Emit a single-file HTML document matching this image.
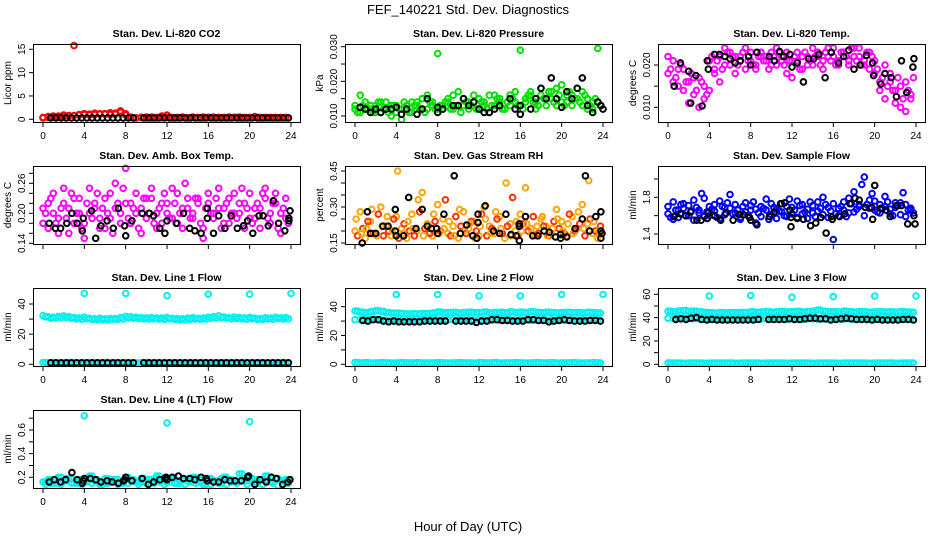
<!DOCTYPE html>
<html><head><meta charset="utf-8"><style>
html,body{margin:0;padding:0;background:#fff}
svg{display:block;font-family:"Liberation Sans",Arial,sans-serif}
</style></head><body>
<svg id="chart" width="936" height="540" viewBox="0 0 936 540">
<rect x="0" y="0" width="936" height="540" fill="#fff"/>
<text x="468" y="14" text-anchor="middle" font-size="13">FEF_140221  Std. Dev. Diagnostics</text>
<text x="468" y="531" text-anchor="middle" font-size="13">Hour of Day (UTC)</text>
</svg>
<script>
// ---- shared categories ----
const hourTicks = [0,4,8,12,16,20,24];
const hourTickLabels = ["0","4","8","12","16","20","24"];
const halfHours = Array.from({length:48},(_,i)=>i*0.5);

// ---- P1 CO2 ----
const co2A = [0.4,0.6,0.5,0.7,0.6,0.8,15.8,0.9,1.0,1.1,1.0,1.2,1.1,1.0,1.3,1.8,1.2,0.5,0.3,0.4,0.5,0.3,0.4,0.7,0.4,0.3,0.4,0.5,0.3,0.4,0.3,0.5,0.4,0.3,0.4,0.3,0.5,0.4,0.3,0.4,0.3,0.5,0.4,0.3,0.4,0.3,0.4,0.3];
const co2B = [0.3,0.4,0.7,0.5,0.9,0.7,0.8,1.0,1.2,0.9,1.3,1.1,1.2,1.4,1.1,1.5,0.9,0.4,0.3,0.4,0.3,0.5,0.3,0.4,0.9,0.4,0.3,0.4,0.3,0.5,0.4,0.3,0.4,0.5,0.3,0.4,0.3,0.4,0.5,0.3,0.4,0.6,0.3,0.4,0.3,0.4,0.3,0.4];
const co2Black = [null,0.3,0.3,0.3,0.3,0.3,0.3,0.3,0.3,0.3,0.3,0.3,0.3,0.3,0.3,0.3,0.3,0.3,null,0.3,0.3,0.3,0.3,0.3,0.3,0.3,0.3,0.3,0.3,0.3,0.3,0.3,0.3,0.3,0.3,0.3,0.3,0.3,0.3,0.3,0.3,0.3,0.3,0.3,0.3,0.3,0.3,0.3];

// ---- P2 Pressure ----
const presA = [0.013,0.016,0.012,0.013,0.011,0.014,0.012,0.010,0.013,0.009,0.012,0.014,0.013,0.012,0.016,0.013,0.028,0.012,0.014,0.016,0.013,0.015,0.012,0.014,0.015,0.013,0.011,0.016,0.014,0.012,0.013,0.017,0.029,0.014,0.016,0.012,0.018,0.015,0.017,0.013,0.019,0.014,0.016,0.018,0.013,0.015,0.012,0.014];
const presB = [0.012,0.011,0.014,0.012,0.013,0.011,0.014,0.013,0.011,0.012,0.013,0.011,0.014,0.015,0.012,0.014,0.012,0.013,0.015,0.012,0.017,0.013,0.014,0.016,0.012,0.014,0.016,0.013,0.015,0.012,0.016,0.014,0.013,0.015,0.017,0.014,0.016,0.013,0.015,0.018,0.014,0.016,0.013,0.015,0.017,0.012,0.014,0.0295];
const presC = [0.011,0.013,0.012,0.011,0.014,0.012,0.011,0.013,0.012,0.014,0.011,0.013,0.012,0.011,0.014,0.012,0.013,0.014,0.012,0.013,0.011,0.014,0.013,0.012,0.014,0.012,0.013,0.015,0.012,0.014,0.015,0.013,0.012,0.016,0.014,0.013,0.015,0.017,0.014,0.016,0.013,0.017,0.015,0.014,0.016,0.013,0.015,0.013];
const presBlackT = [0.5,1,1.5,2,2.5,3,3.5,4,4.5,5,6,6.5,7,8,8,8.5,9.5,10,10.5,11,11.5,12,12.5,13,13.5,14,15,15.5,16,16,17,17.5,18,18.5,19,19.5,20,20.5,21,21.5,22,22.5,23,23.5,23.8,24];
const presBlackV = [0.0125,0.012,0.011,0.012,0.011,0.012,0.012,0.0125,0.0105,0.012,0.0105,0.012,0.015,0.0125,0.011,0.012,0.013,0.013,0.015,0.013,0.014,0.012,0.011,0.011,0.012,0.013,0.015,0.012,0.0105,0.013,0.012,0.015,0.018,0.015,0.021,0.015,0.0125,0.017,0.015,0.018,0.021,0.013,0.011,0.014,0.013,0.012];

// ---- P3 Li-820 Temp ----
const ltA = [0.018,0.021,0.015,0.019,0.016,0.013,0.017,0.012,0.014,0.018,0.016,0.020,0.023,0.022,0.021,0.019,0.023,0.020,0.022,0.021,0.023,0.020,0.022,0.018,0.021,0.023,0.019,0.022,0.020,0.023,0.021,0.024,0.022,0.020,0.023,0.021,0.024,0.022,0.020,0.023,0.018,0.014,0.020,0.016,0.011,0.015,0.009,0.013];
const ltB = [0.022,0.016,0.019,0.014,0.011,0.017,0.010,0.015,0.021,0.019,0.022,0.024,0.020,0.018,0.022,0.024,0.021,0.019,0.023,0.022,0.020,0.024,0.021,0.023,0.017,0.021,0.022,0.020,0.024,0.022,0.019,0.022,0.024,0.021,0.023,0.020,0.022,0.024,0.021,0.019,0.021,0.016,0.012,0.018,0.014,0.010,0.016,0.012];
const ltC = [0.019,0.017,0.020,0.016,0.018,0.014,0.016,0.013,0.022,0.021,0.019,0.023,0.022,0.020,0.023,0.021,0.020,0.022,0.021,0.019,0.022,0.023,0.020,0.021,0.022,0.019,0.023,0.021,0.022,0.020,0.023,0.021,0.020,0.023,0.022,0.024,0.021,0.020,0.023,0.022,0.019,0.017,0.015,0.014,0.017,0.012,0.014,0.017];
const ltBlackT = [0.6,1.2,2,2.2,2.7,3.3,3.8,3.9,4.5,5,5.5,6,6.5,7,7.8,8,8.6,9.8,10.3,10.8,11.2,11.8,12,12.5,13.1,13.6,14.1,14.6,15.2,15.8,16.5,17,17.5,18,18.6,19.2,19.8,19.9,20.6,21,21.6,22.1,22.6,23.1,23.7,23.8];
const ltBlackV = [0.015,0.0205,0.0185,0.011,0.0175,0.0103,0.021,0.019,0.0225,0.0225,0.022,0.0215,0.0205,0.021,0.022,0.020,0.023,0.022,0.021,0.0232,0.022,0.0225,0.0195,0.0205,0.016,0.0215,0.0215,0.0225,0.017,0.023,0.0205,0.022,0.0235,0.019,0.020,0.0223,0.0205,0.0175,0.0155,0.018,0.017,0.0125,0.021,0.0135,0.0195,0.0215];

// ---- P4 Amb Box Temp ----
const abA = [0.21,0.17,0.24,0.19,0.22,0.16,0.23,0.20,0.18,0.25,0.21,0.17,0.23,0.19,0.26,0.20,0.22,0.18,0.24,0.21,0.19,0.23,0.17,0.22,0.20,0.25,0.18,0.21,0.23,0.19,0.22,0.17,0.24,0.20,0.21,0.18,0.23,0.20,0.22,0.17,0.24,0.19,0.21,0.23,0.18,0.22,0.20,0.23];
const abB = [0.18,0.22,0.20,0.16,0.25,0.21,0.18,0.23,0.15,0.20,0.22,0.19,0.17,0.24,0.21,0.18,0.29,0.22,0.20,0.16,0.23,0.25,0.20,0.18,0.22,0.19,0.24,0.17,0.21,0.20,0.23,0.15,0.22,0.19,0.25,0.21,0.18,0.24,0.20,0.22,0.19,0.21,0.17,0.25,0.20,0.24,0.16,0.19];
const abC = [0.20,0.23,0.18,0.21,0.19,0.24,0.20,0.17,0.22,0.19,0.24,0.21,0.20,0.16,0.22,0.25,0.19,0.21,0.17,0.23,0.20,0.18,0.21,0.24,0.19,0.22,0.20,0.26,0.19,0.23,0.18,0.21,0.20,0.23,0.17,0.22,0.20,0.19,0.25,0.21,0.18,0.22,0.24,0.19,0.22,0.17,0.21,0.18];
const abBlackT = [0.6,1.2,1.7,2.3,2.8,3.3,3.8,3.9,4.7,5.1,5.6,6.2,6.8,7.3,7.9,8,8.6,9.6,10.3,10.7,11.3,11.8,12,12.9,13.6,14.2,14.7,15.3,15.9,15.9,16.5,17,17.6,18.2,18.8,19.4,19.8,20.3,20.9,21.3,21.8,22.3,22.8,23.4,23.8,23.8,23.9];
const abBlackV = [0.18,0.17,0.17,0.18,0.20,0.18,0.165,0.19,0.205,0.15,0.175,0.185,0.17,0.21,0.175,0.155,0.185,0.20,0.20,0.195,0.17,0.16,0.185,0.18,0.20,0.17,0.165,0.16,0.21,0.19,0.16,0.195,0.17,0.195,0.17,0.175,0.185,0.16,0.195,0.195,0.175,0.225,0.18,0.165,0.185,0.19,0.205];

// ---- P5 Gas Stream RH ----
const rhA = [0.20,0.28,0.17,0.24,0.19,0.30,0.22,0.18,0.26,0.21,0.17,0.27,0.20,0.36,0.23,0.18,0.31,0.25,0.19,0.22,0.17,0.28,0.21,0.24,0.18,0.30,0.22,0.19,0.26,0.17,0.23,0.20,0.27,0.38,0.21,0.18,0.25,0.22,0.19,0.29,0.24,0.18,0.26,0.21,0.31,0.23,0.19,0.17];
const rhB = [0.18,0.21,0.24,0.19,0.27,0.18,0.20,0.25,0.17,0.23,0.20,0.18,0.28,0.21,0.19,0.24,0.20,0.33,0.18,0.26,0.22,0.19,0.24,0.20,0.27,0.18,0.21,0.25,0.19,0.22,0.34,0.18,0.23,0.20,0.26,0.19,0.22,0.18,0.24,0.21,0.19,0.27,0.20,0.23,0.18,0.25,0.20,0.22];
const rhC = [0.25,0.19,0.21,0.29,0.18,0.22,0.26,0.20,0.45,0.19,0.24,0.21,0.33,0.18,0.22,0.27,0.19,0.21,0.24,0.18,0.29,0.20,0.23,0.17,0.22,0.25,0.19,0.28,0.21,0.40,0.18,0.24,0.20,0.23,0.19,0.22,0.26,0.18,0.21,0.25,0.20,0.23,0.19,0.28,0.21,0.41,0.24,0.20];
const rhBlackT = [0.7,1.2,1.5,2,2.7,3.2,3.9,3.9,4,4.7,5.2,5.9,6.5,7,7.4,7.9,8,8.6,9.6,10.2,10.8,11.4,11.8,11.9,11.9,12.6,13.4,14,14.6,15.1,15.6,15.9,15.9,15.9,16.5,17.2,17.7,18.3,18.8,19.4,19.9,19.9,20.5,21.3,22,22.3,22.7,23.3,23.8,23.8,23.8,23.9];
const rhBlackV = [0.15,0.28,0.19,0.19,0.22,0.22,0.29,0.20,0.18,0.18,0.34,0.21,0.29,0.22,0.21,0.21,0.19,0.27,0.43,0.19,0.225,0.18,0.17,0.27,0.235,0.305,0.20,0.19,0.27,0.185,0.18,0.23,0.22,0.16,0.26,0.18,0.18,0.20,0.195,0.175,0.17,0.185,0.175,0.21,0.25,0.43,0.20,0.26,0.28,0.20,0.17,0.19];

// ---- P6 Sample Flow ----
const sfA = [1.62,1.75,1.58,1.68,1.71,1.55,1.66,1.79,1.60,1.72,1.57,1.69,1.83,1.63,1.58,1.74,1.66,1.52,1.70,1.78,1.61,1.67,1.73,1.59,1.69,1.76,1.62,1.57,1.71,1.65,1.80,1.58,1.34,1.68,1.75,1.63,1.86,1.70,1.60,1.77,1.66,1.72,1.81,1.62,1.69,1.74,1.59,1.68];
const sfB = [1.70,1.56,1.66,1.73,1.60,1.77,1.63,1.59,1.70,1.65,1.76,1.61,1.68,1.72,1.56,1.64,1.71,1.67,1.59,1.66,1.73,1.57,1.64,1.70,1.62,1.58,1.72,1.67,1.63,1.75,1.61,1.69,1.73,1.60,1.66,1.79,1.64,1.72,2.02,1.68,1.76,1.63,1.70,1.67,1.74,1.61,1.72,1.66];
const sfC = [1.58,1.66,1.72,1.60,1.65,1.69,1.84,1.64,1.67,1.58,1.70,1.74,1.62,1.66,1.70,1.60,1.75,1.63,1.68,1.56,1.69,1.65,1.60,1.78,1.66,1.71,1.64,1.75,1.59,1.68,1.72,1.65,1.62,1.70,1.59,1.73,1.67,1.94,1.72,1.84,1.64,1.68,1.75,1.60,1.71,1.85,1.66,1.63];
const sfBlackT = [0.6,1.2,1.7,2.2,2.8,3.2,3.8,3.9,4.5,5.1,5.6,6.3,6.9,7.3,7.9,8,8.6,9.8,10.3,10.9,11.3,11.8,11.9,11.9,12.5,13.1,13.8,14.3,14.8,15.3,15.8,15.9,16.6,17.1,17.6,18.1,18.5,19.1,19.7,19.8,20,20.6,21.1,21.5,22.1,22.6,23.2,23.8,23.9];
const sfBlackV = [1.59,1.62,1.60,1.64,1.55,1.55,1.57,1.63,1.60,1.55,1.63,1.55,1.61,1.61,1.58,1.55,1.50,1.59,1.64,1.73,1.74,1.66,1.58,1.48,1.57,1.56,1.49,1.52,1.58,1.41,1.59,1.56,1.59,1.62,1.73,1.79,1.77,1.69,1.69,1.56,1.93,1.68,1.66,1.59,1.71,1.71,1.51,1.60,1.51];

// ---- P7-P9 Line flows ----
const outT = [4,8,12,16,20,24];
const l1Hi = [32.3,31.5,31.2,31.8,32.1,31.6,31.0,30.8,31.4,30.5,30.2,30.6,30.1,30.4,30.3,30.9,31.8,31.5,31.2,30.9,30.8,31.0,30.6,30.7,31.1,30.5,30.4,30.2,30.6,30.9,30.5,30.8,31.2,31.6,32.2,31.4,30.9,31.3,31.0,30.8,31.1,30.6,30.4,30.9,30.7,31.2,30.8,31.0];
const l1Mid = [31.4,30.6,30.8,30.9,31.0,30.5,30.1,29.9,30.2,29.8,29.6,29.8,29.5,29.9,29.7,30.1,30.8,30.6,30.3,30.1,30.0,30.2,29.9,29.8,30.2,29.8,29.6,29.5,29.9,30.0,29.7,30.0,30.4,30.8,31.0,30.6,30.1,30.4,30.2,29.9,30.3,29.8,29.7,30.1,29.9,30.3,30.0,30.2];
const l1Lo = [1.2,1.0,1.1,0.9,1.0,1.1,1.0,0.9,1.0,1.1,1.0,1.0,1.1,0.9,1.0,1.0,1.1,1.0,0.9,1.0,1.1,1.0,1.0,0.9,1.1,1.0,1.0,1.1,0.9,1.0,1.0,1.1,1.0,0.9,1.0,1.1,1.0,1.0,1.1,0.9,1.0,1.0,1.1,1.0,0.9,1.0,1.1,1.0];
const l1Out = [47,47,45.5,46.5,46.5,47];
const l1Black = [null,1,1,1,1,1,1,1,1,1,1,1,1,1,1,1,1,1,null,1,1,1,1,1,1,1,1,1,1,1,1,1,1,1,1,1,1,1,1,1,1,1,1,1,1,1,1,1];

const l2Hi = [37.0,36.2,35.8,36.5,37.2,36.8,36.0,35.6,35.5,35.2,34.9,35.1,35.0,35.3,35.2,35.6,36.4,35.8,35.9,36.1,35.7,35.9,36.2,35.8,36.0,36.3,35.7,35.9,36.1,35.8,36.4,36.0,36.2,35.9,36.5,36.1,35.8,36.2,36.0,35.7,35.9,36.1,35.8,36.0,35.7,36.1,35.9,35.6];
const l2Mid = [31.0,30.8,31.2,31.0,31.3,30.9,30.6,30.5,30.7,30.4,30.3,30.5,30.4,30.6,30.5,30.8,31.0,30.7,30.8,30.9,30.6,30.8,30.9,30.6,30.8,31.0,30.7,30.9,30.8,30.6,30.9,30.7,31.0,30.8,30.6,30.9,30.7,30.8,31.0,30.7,30.9,30.6,30.8,30.7,30.9,30.6,30.8,30.7];
const l2Lo = l1Lo;
const l2Out = [48.5,48.5,47.5,47.5,48.5,48.5];
const l2Black = [null,30.5,30,31,31,30,29.5,30,29.5,29.5,29.5,29.5,29.5,30,30,30,30,30,null,30,30,30,30,29,30,30,31,31,30.5,30.5,30,30,30,31,31,30.5,30.5,29.5,30,30.5,31,30.5,30,30,30,30.5,30.5,30];

const l3Hi = [45.5,45.0,45.8,46.0,45.4,45.6,45.0,44.5,44.2,44.0,44.3,44.1,44.4,44.2,44.5,44.3,45.0,44.6,44.8,45.1,44.7,45.0,45.3,44.9,45.1,45.4,44.8,45.2,45.6,46.5,45.3,45.0,45.2,44.9,45.5,45.1,44.8,45.2,45.0,44.7,44.9,45.1,44.8,45.0,44.7,45.1,44.9,44.6];
const l3Mid = [39.5,39.2,39.6,39.8,39.4,39.1,38.8,38.7,38.6,38.5,38.4,38.5,38.4,38.6,38.5,38.8,39.0,38.7,38.8,38.9,38.6,38.8,38.9,38.6,38.8,39.0,38.7,38.9,38.8,38.6,38.9,38.7,39.0,38.8,38.6,38.9,38.7,38.8,39.0,38.7,38.9,38.6,38.8,38.7,38.9,38.6,38.8,38.7];
const l3Lo = l1Lo;
const l3Out = [58.5,59,57.5,58,58.5,58.5];
const l3Black = [null,38.5,39,38.5,39.5,40,38.5,38,38.5,38,38,38,38,38,38,38,38,38.5,null,38.5,38.5,38.5,38.5,39,38.5,38.5,39,39.5,39.5,39,39,38,38.5,39,39.5,39,38.5,38.5,38.5,38,38.5,38,38,38,38,38.5,38.5,38];

// ---- P10 Line 4 (LT) ----
const l4A = [0.16,0.18,0.15,0.20,0.17,0.19,0.15,0.18,0.16,0.21,0.17,0.14,0.19,0.16,0.18,0.15,0.20,0.17,0.16,0.19,0.15,0.18,0.21,0.17,0.16,0.19,0.15,0.18,0.17,0.20,0.16,0.14,0.19,0.17,0.15,0.20,0.18,0.16,0.23,0.17,0.19,0.15,0.18,0.21,0.16,0.19,0.17,0.18];
const l4B = [0.14,0.15,0.18,0.14,0.19,0.15,0.17,0.14,0.19,0.15,0.18,0.16,0.15,0.18,0.14,0.17,0.15,0.18,0.14,0.16,0.18,0.15,0.16,0.14,0.19,0.15,0.17,0.14,0.16,0.15,0.18,0.17,0.14,0.16,0.19,0.14,0.16,0.15,0.17,0.14,0.16,0.18,0.14,0.17,0.15,0.13,0.16,0.15];
const l4OutT = [4,12,20];
const l4Out = [0.72,0.66,0.67];
const l4BlackT = [0.6,1.1,1.7,2.2,2.8,3.3,3.8,3.9,4,4.6,5.1,5.6,6.2,6.7,7.3,7.8,7.9,8,8.6,9.6,10.2,10.7,11.3,11.8,11.9,12,12.5,13.1,13.6,14.2,14.7,15.3,15.8,15.9,16.5,17,17.6,18.1,18.6,19.2,19.8,19.9,20.5,21,21.6,22.1,22.6,23.2,23.7,23.9];
const l4BlackV = [0.16,0.18,0.16,0.18,0.24,0.18,0.15,0.17,0.19,0.19,0.18,0.16,0.17,0.16,0.15,0.17,0.18,0.20,0.17,0.19,0.14,0.16,0.18,0.19,0.20,0.18,0.20,0.21,0.19,0.19,0.18,0.20,0.19,0.17,0.16,0.16,0.18,0.17,0.17,0.17,0.20,0.21,0.14,0.18,0.16,0.20,0.19,0.14,0.16,0.18];

// ---- y tick arrays ----
const yt1 = [0,5,10,15], yl1 = ["0","5","10","15"];
const yt2 = [0.010,0.015,0.020,0.025,0.030], yl2 = ["0.010","","0.020","","0.030"];
const yt3 = [0.010,0.015,0.020], yl3 = ["0.010","","0.020"];
const yt4 = [0.14,0.16,0.18,0.20,0.22,0.24,0.26,0.28], yl4 = ["0.14","","","0.20","","","0.26",""];
const yt5 = [0.15,0.20,0.25,0.30,0.35,0.40,0.45], yl5 = ["0.15","","","0.30","","","0.45"];
const yt6 = [1.4,1.6,1.8,2.0], yl6 = ["1.4","","1.8",""];
const yt7 = [0,10,20,30,40], yl7 = ["0","","20","","40"];
const yt9 = [0,10,20,30,40,50,60], yl9 = ["0","","20","","40","","60"];
const yt10 = [0.2,0.3,0.4,0.5,0.6,0.7], yl10 = ["0.2","","0.4","","0.6",""];

const NS = "http://www.w3.org/2000/svg";
const svg = document.getElementById("chart");
function mk(tag, attrs, parent){
  const e = document.createElementNS(NS, tag);
  for (const k in attrs) e.setAttribute(k, attrs[k]);
  (parent||svg).appendChild(e);
  return e;
}
const colLeft = [33,345,658];
const rowTop = [44,166,288,410];
const BW = 267, BH = 78;

function panel(name, col, row, title, ylab, cal, yt, yl, showX, series){
  const L = colLeft[col], T = rowTop[row];
  const g = mk("g", {});
  
  
  const xs = t => L + 10 + t * (248/24);
  const ys = v => cal[1] + (v - cal[0]) * (cal[3]-cal[1])/(cal[2]-cal[0]);
  const ttl = mk("text", {x: L+BW/2, y: T-7, "text-anchor":"middle", "font-size":"10.5", "font-weight":"bold"}, g);
  ttl.textContent = title;
  
  
  const pts = mk("g", {fill:"none", "stroke-width":"2"}, g);
  
  
  series.forEach(s => {
    s.v.forEach((v,i) => {
      if (v === null) return;
      const t = s.t[i];
      const c = mk("circle", {cx: xs(t).toFixed(1), cy: ys(v).toFixed(1), r: "2.8", stroke: s.c}, pts);
      
      
    });
  });
  const box = mk("rect", {x:L+0.5, y:T+0.5, width:BW, height:BH, fill:"none", stroke:"#000", "stroke-width":"1"}, g);
  
  
  const xa = mk("g", {stroke:"#000", "stroke-width":"1"}, g);
  
  
  hourTicks.forEach((h,i) => {
    const x = xs(h);
    mk("line", {x1:x, x2:x, y1:T+BH+0.5, y2:T+BH+5}, xa);
    if (showX) {
      const tx = mk("text", {x:x, y:T+BH+17, "text-anchor":"middle", "font-size":"10", stroke:"none", fill:"#000"}, xa);
      tx.textContent = hourTickLabels[i];
      
      
    }
  });
  const ya = mk("g", {stroke:"#000", "stroke-width":"1"}, g);
  
  
  yt.forEach((v,i) => {
    const y = ys(v);
    mk("line", {x1:L+0.5, x2:L-4, y1:y, y2:y}, ya);
    if (yl[i]) {
      const tx = mk("text", {x:L-8, y:y, "text-anchor":"middle", "font-size":"10", stroke:"none", fill:"#000", transform:`rotate(-90 ${L-8} ${y})`}, ya);
      tx.textContent = yl[i];
      
      
    }
  });
  const yx = L - 22, yy = T + BH/2;
  const yl_ = mk("text", {x:yx, y:yy, "text-anchor":"middle", "font-size":"10", transform:`rotate(-90 ${yx} ${yy})`}, g);
  yl_.textContent = ylab;
  
  
}

const MAG = "#ff00ff", GRN = "#00e000", CY = "#00f0f0", BLU = "#0000ff", BLK = "#000";
const H = halfHours;
panel("co2", 0, 0, "Stan. Dev. Li-820 CO2", "Licor ppm", [0,119.3,15,49.3], yt1, yl1, true, [
  {t:H, v:co2A, c:"#ff0000"}, {t:H, v:co2B, c:"#ff0000"}, {t:H.map(h=>h+0.25), v:co2Black, c:BLK}]);
panel("pressure", 1, 0, "Stan. Dev. Li-820 Pressure", "kPa", [0.010,116,0.030,46.7], yt2, yl2, true, [
  {t:H, v:presA, c:GRN}, {t:H, v:presB, c:GRN}, {t:H.map(h=>h+0.25), v:presC, c:GRN}, {t:presBlackT, v:presBlackV, c:BLK}]);
panel("li-temp", 2, 0, "Stan. Dev. Li-820 Temp.", "degrees C", [0.010,107.3,0.020,65], yt3, yl3, true, [
  {t:H, v:ltA, c:MAG}, {t:H, v:ltB, c:MAG}, {t:H.map(h=>h+0.25), v:ltC, c:MAG}, {t:ltBlackT, v:ltBlackV, c:BLK}]);
panel("amb-temp", 0, 1, "Stan. Dev. Amb. Box Temp.", "degrees C", [0.14,243.3,0.26,183.3], yt4, yl4, false, [
  {t:H, v:abA, c:MAG}, {t:H, v:abB, c:MAG}, {t:H.map(h=>h+0.25), v:abC, c:MAG}, {t:abBlackT, v:abBlackV, c:BLK}]);
panel("gas-rh", 1, 1, "Stan. Dev. Gas Stream RH", "percent", [0.15,243,0.45,171], yt5, yl5, false, [
  {t:H, v:rhA, c:"#ffa500"}, {t:H.map(h=>h+0.25), v:rhB, c:"#ff3000"}, {t:H.map(h=>h+0.12), v:rhC, c:"#ffa500"}, {t:rhBlackT, v:rhBlackV, c:BLK}]);
panel("sample-flow", 2, 1, "Stan. Dev. Sample Flow", "ml/min", [1.4,234,1.8,197.3], yt6, yl6, false, [
  {t:H, v:sfA, c:BLU}, {t:H, v:sfB, c:BLU}, {t:H.map(h=>h+0.25), v:sfC, c:BLU}, {t:sfBlackT, v:sfBlackV, c:BLK}]);
const H2 = H.map(h=>h+0.25);
panel("line1", 0, 2, "Stan. Dev. Line 1 Flow", "ml/min", [0,364.3,40,304], yt7, yl7, true, [
  {t:H, v:l1Hi, c:CY}, {t:H2, v:l1Mid, c:CY}, {t:H, v:l1Lo, c:CY}, {t:H2, v:l1Lo, c:CY}, {t:outT, v:l1Out, c:CY}, {t:H2, v:l1Black, c:BLK}]);
panel("line2", 1, 2, "Stan. Dev. Line 2 Flow", "ml/min", [0,364.3,40,306.7], yt7, yl7, true, [
  {t:H, v:l2Hi, c:CY}, {t:H2, v:l2Hi, c:CY}, {t:H, v:l2Mid, c:CY}, {t:H, v:l2Lo, c:CY}, {t:H2, v:l2Lo, c:CY}, {t:outT, v:l2Out, c:CY}, {t:H2, v:l2Black, c:BLK}]);
panel("line3", 2, 2, "Stan. Dev. Line 3 Flow", "ml/min", [0,364.3,60,294.3], yt9, yl9, true, [
  {t:H, v:l3Hi, c:CY}, {t:H2, v:l3Hi, c:CY}, {t:H, v:l3Mid, c:CY}, {t:H, v:l3Lo, c:CY}, {t:H2, v:l3Lo, c:CY}, {t:outT, v:l3Out, c:CY}, {t:H2, v:l3Black, c:BLK}]);
panel("line4", 0, 3, "Stan. Dev. Line 4 (LT) Flow", "ml/min", [0.2,477.3,0.6,430], yt10, yl10, true, [
  {t:H, v:l4A, c:CY}, {t:H2, v:l4B, c:CY}, {t:H2, v:l4A, c:CY}, {t:l4OutT, v:l4Out, c:CY}, {t:l4BlackT, v:l4BlackV, c:BLK}]);
</script>
</body></html>
